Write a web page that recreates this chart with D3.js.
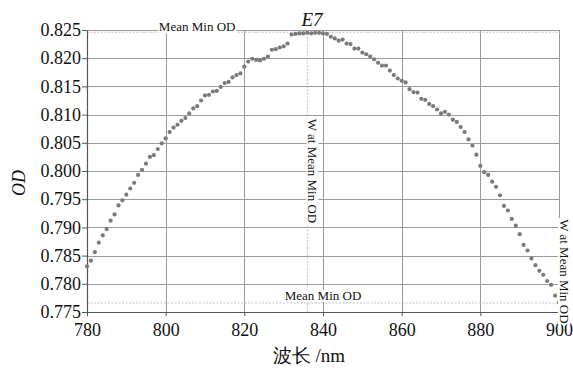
<!DOCTYPE html>
<html>
<head>
<meta charset="utf-8">
<script src="https://cdn.jsdelivr.net/npm/d3@7"></script>
<style>
  body { margin: 0; background: #fff; }
  svg { display: block; }
  svg text { font-family: "Liberation Serif", serif; }
</style>
</head>
<body>
<div id="chart"></div>
<script>
const wavelength = [
  780, 781, 782, 783, 784, 785, 786, 787, 788, 789,
  790, 791, 792, 793, 794, 795, 796, 797, 798, 799,
  800, 801, 802, 803, 804, 805, 806, 807, 808, 809,
  810, 811, 812, 813, 814, 815, 816, 817, 818, 819,
  820, 821, 822, 823, 824, 825, 826, 827, 828, 829,
  830, 831, 832, 833, 834, 835, 836, 837, 838, 839,
  840, 841, 842, 843, 844, 845, 846, 847, 848, 849,
  850, 851, 852, 853, 854, 855, 856, 857, 858, 859,
  860, 861, 862, 863, 864, 865, 866, 867, 868, 869,
  870, 871, 872, 873, 874, 875, 876, 877, 878, 879,
  880, 881, 882, 883, 884, 885, 886, 887, 888, 889,
  890, 891, 892, 893, 894, 895, 896, 897, 898, 899,
  900
];
const od = [
  0.7831, 0.7841, 0.7856, 0.7873, 0.7886, 0.7897, 0.7912, 0.7923, 0.7939, 0.7948,
  0.7958, 0.7969, 0.7979, 0.7993, 0.8002, 0.8013, 0.8025, 0.8028, 0.8039, 0.8049,
  0.8058, 0.8069, 0.8077, 0.8082, 0.8089, 0.8094, 0.8102, 0.8111, 0.8115, 0.8125,
  0.8134, 0.8135, 0.8141, 0.8142, 0.8149, 0.8156, 0.8158, 0.8166, 0.8170, 0.8173,
  0.8185, 0.8194, 0.8199, 0.8197, 0.8196, 0.8199, 0.8203, 0.8215, 0.8216, 0.8219,
  0.8221, 0.8226, 0.8242, 0.8243, 0.8244, 0.8244, 0.8245, 0.8244, 0.8245, 0.8245,
  0.8244, 0.8243, 0.8238, 0.8235, 0.8231, 0.8233, 0.8226, 0.8225, 0.8217, 0.8217,
  0.8210, 0.8207, 0.8203, 0.8198, 0.8192, 0.8187, 0.8187, 0.8178, 0.8170, 0.8164,
  0.8160, 0.8157, 0.8145, 0.8140, 0.8139, 0.8128, 0.8126, 0.8119, 0.8115, 0.8109,
  0.8102, 0.8105, 0.8100, 0.8091, 0.8087, 0.8078, 0.8069, 0.8056, 0.8045, 0.8029,
  0.8009, 0.7998, 0.7993, 0.7981, 0.7972, 0.7957, 0.7938, 0.7930, 0.7915, 0.7903,
  0.7888, 0.7869, 0.7859, 0.7845, 0.7833, 0.7823, 0.7816, 0.7805, 0.7798, 0.7779,
  0.7767
];
const xTicks = [780, 800, 820, 840, 860, 880, 900];
const yTicks = [0.775, 0.780, 0.785, 0.790, 0.795, 0.800, 0.805, 0.810, 0.815, 0.820, 0.825];

// reference markers ("Mean Min OD" lines)
const peakOD = 0.8246, peakW = 836;
const lowOD = 0.7766, lowW = 900;

const title = "E7";
const xTitle = "波长 /nm";
const yTitle = "OD";
const odLabel = "Mean Min OD";
const wLabel = "W at Mean Min OD";

const W = 573, H = 368;
const margin = { top: 30, right: 14, bottom: 56, left: 87 };
const iw = W - margin.left - margin.right,
      ih = H - margin.top - margin.bottom;

const x = d3.scaleLinear().domain([780, 900]).range([0, iw]);
const y = d3.scaleLinear().domain([0.775, 0.825]).range([ih, 0]);

const svg = d3.select("#chart").append("svg")
    .attr("width", W)
    .attr("height", H);

const g = svg.append("g")
    .attr("transform", "translate(" + margin.left + "," + margin.top + ")");

const gridColor = "#9a9a9a";

// grid
g.append("g").selectAll("line.h")
    .data(yTicks).enter().append("line")
    .attr("x1", 0).attr("x2", iw)
    .attr("y1", d => Math.round(y(d)) + 0.5).attr("y2", d => Math.round(y(d)) + 0.5)
    .attr("stroke", gridColor).attr("stroke-width", 1);

g.append("g").selectAll("line.v")
    .data(xTicks).enter().append("line")
    .attr("y1", 0).attr("y2", ih)
    .attr("x1", d => Math.round(x(d)) + 0.5).attr("x2", d => Math.round(x(d)) + 0.5)
    .attr("stroke", gridColor).attr("stroke-width", 1);

// dashed marker lines
const dash = g.append("g")
    .attr("stroke", "#b0b0b0")
    .attr("stroke-width", 0.8)
    .attr("stroke-dasharray", "2,1.5");
dash.append("line")
    .attr("x1", 0).attr("x2", iw)
    .attr("y1", y(peakOD)).attr("y2", y(peakOD));
dash.append("line")
    .attr("x1", 0).attr("x2", iw)
    .attr("y1", y(lowOD)).attr("y2", y(lowOD));
dash.append("line")
    .attr("x1", x(peakW)).attr("x2", x(peakW))
    .attr("y1", 0).attr("y2", ih);

// axes
const xAxis = g.append("g")
    .attr("transform", "translate(0," + ih + ")")
    .call(d3.axisBottom(x).tickValues(xTicks).tickFormat(d3.format("d"))
        .tickSizeInner(4).tickSizeOuter(0).tickPadding(7));
const yAxis = g.append("g")
    .call(d3.axisLeft(y).tickValues(yTicks).tickFormat(d3.format(".3f"))
        .tickSizeInner(5).tickSizeOuter(0).tickPadding(1));

[xAxis, yAxis].forEach(a => {
    a.attr("font-family", "Liberation Serif").attr("font-size", 18);
    a.select(".domain").attr("stroke", "#555").attr("stroke-width", 1.2);
    a.selectAll(".tick line").attr("stroke", "#555");
    a.selectAll(".tick text")
        .attr("fill", "#111")
        .style("font-size", "18px");
});

// right border
g.append("line")
    .attr("x1", iw + 0.5).attr("x2", iw + 0.5)
    .attr("y1", 0).attr("y2", ih)
    .attr("stroke", gridColor);

// data points
g.append("g").selectAll("circle")
    .data(wavelength.map((w, i) => ({ w: w, v: od[i] })))
    .enter().append("circle")
    .attr("cx", d => x(d.w))
    .attr("cy", d => y(d.v))
    .attr("r", 2.1)
    .attr("fill", "#7a7a7a");

// label with white background box
function boxedText(parent, txt, tx, ty, rotate, anchor) {
    const lg = parent.append("g")
        .attr("transform", "translate(" + tx + "," + ty + ")" + (rotate ? " rotate(" + rotate + ")" : ""));
    const t = lg.append("text")
        .attr("text-anchor", anchor)
        .style("font-size", "13px")
        .attr("fill", "#111")
        .text(txt);
    const bb = t.node().getBBox();
    lg.insert("rect", "text")
        .attr("x", bb.x - 1).attr("y", bb.y + 2)
        .attr("width", bb.width + 2).attr("height", bb.height - 3)
        .attr("fill", "#fff");
    return lg;
}

boxedText(g, odLabel, (x(780) + x(peakW)) / 2, y(peakOD) - 1, 0, "middle");
boxedText(g, odLabel, (x(780) + x(lowW)) / 2, y(lowOD) - 3, 0, "middle");
boxedText(g, wLabel, x(peakW) + 1, ih / 2, 90, "middle");
boxedText(g, wLabel, x(lowW) + 1, y(0.7822), 90, "middle");

// titles
svg.append("text")
    .attr("x", 312).attr("y", 26)
    .attr("text-anchor", "middle")
    .style("font-size", "19px")
    .style("font-style", "italic")
    .attr("fill", "#111")
    .text(title);

svg.append("text")
    .attr("transform", "translate(25,183) rotate(-90)")
    .attr("text-anchor", "middle")
    .style("font-size", "18px")
    .style("font-style", "italic")
    .attr("fill", "#111")
    .text(yTitle);

svg.append("text")
    .attr("x", 309).attr("y", 362)
    .attr("text-anchor", "middle")
    .style("font-size", "19px")
    .attr("fill", "#111")
    .text(xTitle);
</script>
</body>
</html>
